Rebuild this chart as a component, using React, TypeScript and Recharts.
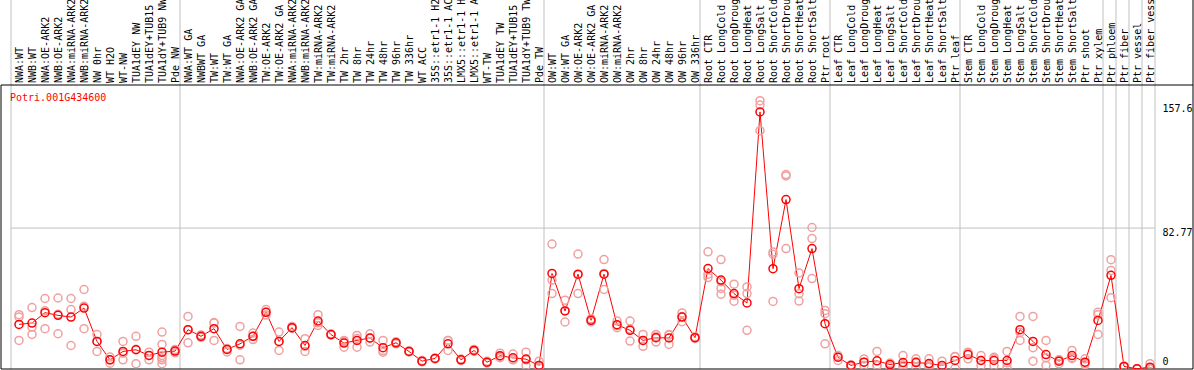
import { ComposedChart, Line, Scatter, XAxis, YAxis, ReferenceLine } from "recharts";

const labels = [
  "NWA:WT", "NWB:WT", "NWA:OE-ARK2", "NWB:OE-ARK2", "NWA:miRNA-ARK2", "NWB:miRNA-ARK2",
  "NW 0hr", "WT H2O", "WT-NW", "TUA1dEY NW", "TUA1dEY+TUB15", "TUA1dY+TUB9 NW", "Pde NW",
  "NWA:WT GA", "NWBWT GA", "TW:WT", "TW:WT GA", "NWA:OE-ARK2 GA", "NWB:OE-ARK2 GA",
  "TW:OE-ARK2", "TW:OE-ARK2 GA", "NWA:miRNA-ARK2", "NWB:miRNA-ARK2", "TW:miRNA-ARK2",
  "TW:miRNA-ARK2", "TW 2hr", "TW 8hr", "TW 24hr", "TW 48hr", "TW 96hr", "TW 336hr", "WT ACC",
  "35S::etr1-1 H2O", "35S::etr1-1 ACC", "LMX5::etr1-1 H2O", "LMX5::etr1-1 ACC", "WT-TW",
  "TUA1dEY TW", "TUA1dEY+TUB15", "TUA1dY+TUB9 TW", "Pde TW",
  "OW:WT", "OW:WT GA", "OW:OE-ARK2", "OW:OE-ARK2 GA", "OW:miRNA-ARK2", "OW:miRNA-ARK2",
  "OW 2hr", "OW 8hr", "OW 24hr", "OW 48hr", "OW 96hr", "OW 336hr",
  "Root CTR", "Root LongCold", "Root LongDrought", "Root LongHeat", "Root LongSalt",
  "Root ShortCold", "Root ShortDrought", "Root ShortHeat", "Root ShortSalt", "Ptr root",
  "Leaf CTR", "Leaf LongCold", "Leaf LongDrought", "Leaf LongHeat", "Leaf LongSalt",
  "Leaf ShortCold", "Leaf ShortDrought", "Leaf ShortHeat", "Leaf ShortSalt", "Ptr leaf",
  "Stem CTR", "Stem LongCold", "Stem LongDrought", "Stem LongHeat", "Stem LongSalt",
  "Stem ShortCold", "Stem ShortDrought", "Stem ShortHeat", "Stem ShortSalt", "Ptr shoot",
  "Ptr xylem", "Ptr phloem", "Ptr fiber", "Ptr vessel", "Ptr fiber vessel",
];

const means = [
  26.2, 27.0, 33.1, 31.5, 30.5, 35.8, 16.2, 5.4, 10.3, 11.3, 8.0, 9.9, 10.5,
  23.1, 19.2, 23.7, 11.5, 14.8, 19.2, 33.3, 16.2, 24.3, 13.8, 28.2, 20.2, 15.2, 16.8,
  18.2, 12.5, 15.4, 10.3, 4.6, 6.2, 14.8, 5.4, 10.9, 4.0, 7.8, 6.6, 5.8, 2.1,
  56.1, 34.1, 55.7, 28.6, 55.7, 26.0, 22.7, 16.8, 18.4, 18.2, 30.5, 18.4,
  59.0, 52.2, 44.3, 38.8, 151.0, 58.9, 99.5, 47.2, 70.7, 26.6,
  6.9, 2.1, 4.0, 4.8, 2.6, 3.8, 3.8, 3.2, 2.1, 5.0,
  8.5, 5.0, 5.0, 5.0, 23.1, 16.2, 8.5, 4.6, 7.9, 4.0, 28.5,
  55.0, 1.5, 0.1, 1.1,
];

const replicates = [
  [31.9, 30.5, 16.8], [36.1, 24.6, 20.3], [41.4, 34.2, 23.7], [41.7, 32.1, 20.7],
  [41.4, 34.9, 13.8], [46.7, 36.8, 23.7], [20.2, 16.2, 10.3], [7.0, 5.4, 3.4],
  [16.2, 9.3, 5.4], [19.2, 11.6, 3.1], [9.9, 8.0, 5.4], [21.7, 14.4, 8.0, 5.4, 3.1, 6.5],
  [11.5, 10.5, 9.5],
  [30.9, 23.0, 15.4], [20.0, 19.0, 18.6], [27.0, 27.3, 16.8], [12.0, 11.5, 10.0],
  [25.0, 14.0, 5.4], [21.1, 19.2, 17.3], [34.9, 33.3, 31.7], [21.7, 16.0, 10.9],
  [25.0, 24.0, 24.0], [17.8, 13.3, 10.3], [31.9, 27.1, 25.6], [20.5, 20.0, 20.0],
  [16.8, 16.0, 12.8], [19.7, 17.9, 12.8], [20.7, 18.1, 15.8], [16.8, 10.8, 9.9],
  [16.0, 15.4, 14.8], [10.5, 10.0, 10.5], [5.0, 4.6, 4.2], [6.5, 6.2, 6.0],
  [16.8, 16.7, 10.9], [5.8, 5.4, 5.0], [11.5, 11.0, 10.3], [4.5, 4.0, 3.5],
  [9.3, 7.5, 6.6], [8.8, 5.6, 5.4], [9.9, 5.4, 2.1], [4.6, 2.1, 1.1],
  [73.4, 52.2, 44.3], [40.4, 34.3, 27.6], [67.5, 55.3, 44.3], [29.5, 28.5, 27.8],
  [64.3, 56.1, 46.7], [28.2, 25.5, 24.3], [28.2, 23.5, 16.4], [20.3, 16.8, 13.3],
  [20.3, 19.1, 15.8], [20.3, 19.9, 14.4], [32.9, 30.8, 27.8], [19.0, 18.2, 18.0],
  [68.8, 55.7, 53.7], [64.3, 51.3, 47.3, 43.9], [49.8, 43.3, 39.8], [48.2, 44.3, 22.7],
  [157.6, 155.0, 140.0], [68.7, 67.4, 39.7], [114.2, 113.4, 70.7], [56.4, 44.2, 39.9],
  [83.1, 76.6, 53.1], [34.4, 32.5, 14.8],
  [8.0, 6.9, 5.0], [2.5, 2.0, 1.5], [5.9, 4.0, 2.0], [10.3, 2.1, 2.0], [3.5, 2.8, 1.5],
  [7.9, 2.4, 1.1], [6.0, 4.3, 1.1], [6.0, 2.5, 1.1], [4.6, 1.0, 0.7], [7.4, 7.2, 0.4],
  [9.9, 9.6, 6.0], [7.9, 5.0, 2.1], [6.9, 6.0, 2.1], [10.3, 3.6, 1.1], [30.9, 21.5, 16.8],
  [30.9, 12.5, 4.6], [16.8, 6.6, 2.1], [5.4, 5.3, 3.1], [10.9, 6.6, 6.2], [6.0, 3.4, 2.6],
  [33.4, 31.8, 20.3],
  [64.2, 57.9, 41.9], [1.8, 1.5, 1.2], [0.2, 0.1, 0.0], [3.1, 0.2, 0.0],
];

// index of the first sample in each block (last entry closes the final block)
const groupStarts = [0, 13, 41, 53, 63, 73, 84, 85, 86, 87, 88];
const yTicks = [0, 82.77, 157.6];

const mono = '"DejaVu Sans Mono", monospace';
const step = 13; // px per sample
const firstX = 19;
const plotLeft = 1;
const plotRight = 1193;
const plotTop = 85;
const plotBottom = 369;
const xMin = -(firstX - plotLeft) / step;
const xMax = xMin + (plotRight - plotLeft) / step;
const yMax = 166.8;
const ySvgTop = (yMax * plotBottom) / (plotBottom - plotTop);

const meanRows = means.map((mean, idx) => ({ idx, mean }));
const repRows = replicates.flatMap((vals, idx) => vals.map((value) => ({ idx, value })));
const sepX = groupStarts.map((j) => j - 8 / step);
const lastSep = sepX[sepX.length - 1];

function HeaderTick({ x, y, payload }: any) {
  const bx = x + 3.5;
  return (
    <text x={bx} y={y} transform={`rotate(-90 ${bx} ${y})`} fontFamily={mono} fontSize={10} fill="#000">
      {labels[payload.value]}
    </text>
  );
}

// value labels, left-aligned a little right of the last separator
function valueLabel(v: number) {
  const dy = v === 0 ? -4 : v === yTicks[yTicks.length - 1] ? 11 : 8;
  return (props: any) => {
    const vb = props.viewBox || {};
    return (
      <text x={(vb.x ?? 0) + 7.5} y={(vb.y ?? 0) + dy} textAnchor="start" fontFamily={mono} fontSize={10} fill="#000">
        {v}
      </text>
    );
  };
}

export default function App() {
  return (
    <div style={{ position: "absolute", left: 0, top: 0, width: 1194, height: 370, background: "#fff" }}>
      <ComposedChart
        width={1194}
        height={370}
        data={meanRows}
        margin={{ top: 0, right: 1194 - plotRight, bottom: 370 - plotBottom, left: plotLeft }}
      >
        <XAxis
          dataKey="idx"
          type="number"
          domain={[xMin, xMax]}
          allowDataOverflow
          orientation="top"
          height={plotTop}
          ticks={meanRows.map((r) => r.idx)}
          interval={0}
          tick={<HeaderTick />}
          tickLine={false}
          tickSize={0}
          tickMargin={2}
          axisLine={{ stroke: "#000" }}
        />
        <YAxis type="number" domain={[0, yMax]} allowDataOverflow hide />
        {sepX.map((sx, i) => (
          <ReferenceLine
            key={`sep${i}`}
            segment={[{ x: sx, y: 0 }, { x: sx, y: ySvgTop }]}
            stroke="#c0c0c0"
            ifOverflow="visible"
          />
        ))}
        <ReferenceLine
          segment={[{ x: sepX[0], y: yTicks[1] }, { x: lastSep, y: yTicks[1] }]}
          stroke="#c0c0c0"
        />
        <ReferenceLine x={xMin} stroke="#000" />
        <ReferenceLine y={0} stroke="#000" />
        <ReferenceLine
          segment={[{ x: xMax, y: 0 }, { x: xMax, y: ySvgTop }]}
          stroke="#000"
          ifOverflow="visible"
        />
        {yTicks.map((v) => (
          <ReferenceLine
            key={`yl${v}`}
            segment={[{ x: lastSep, y: v }, { x: xMax, y: v }]}
            stroke="none"
            label={valueLabel(v)}
          />
        ))}
        <Scatter
          data={repRows}
          dataKey="value"
          isAnimationActive={false}
          shape={(p: any) => (
            <circle cx={p.cx} cy={p.cy} r={4} fill="none" stroke="#f0a0a0" strokeWidth={1.5} />
          )}
        />
        <Line
          dataKey="mean"
          stroke="#ff0000"
          strokeWidth={1}
          isAnimationActive={false}
          dot={(p: any) => (
            <circle key={`m${p.index}`} cx={p.cx} cy={p.cy} r={4} fill="none" stroke="#ff0000" strokeWidth={1.5} />
          )}
          activeDot={false}
        />
      </ComposedChart>
      <div
        style={{
          position: "absolute",
          left: 10,
          top: 93,
          fontFamily: mono,
          fontSize: 10,
          lineHeight: "10px",
          color: "#ff0000",
          whiteSpace: "nowrap",
        }}
      >
        Potri.001G434600
      </div>
    </div>
  );
}
